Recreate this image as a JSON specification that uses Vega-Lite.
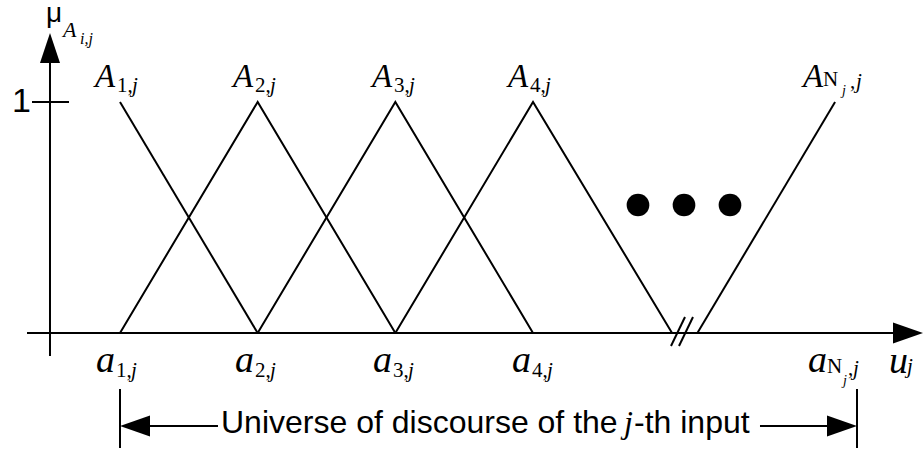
{
  "$schema": "https://vega.github.io/schema/vega-lite/v6.json",
  "width": 924,
  "height": 453,
  "autosize": {"type": "fit", "contains": "padding"},
  "padding": 0,
  "background": "white",
  "config": {"view": {"stroke": null}},
  "datasets": {
    "curves": [
      {"s": "A1", "o": 1, "u": 1, "mu": 1},
      {"s": "A1", "o": 2, "u": 2, "mu": 0},
      {"s": "A2", "o": 1, "u": 1, "mu": 0},
      {"s": "A2", "o": 2, "u": 2, "mu": 1},
      {"s": "A2", "o": 3, "u": 3, "mu": 0},
      {"s": "A3", "o": 1, "u": 2, "mu": 0},
      {"s": "A3", "o": 2, "u": 3, "mu": 1},
      {"s": "A3", "o": 3, "u": 4, "mu": 0},
      {"s": "A4", "o": 1, "u": 3, "mu": 0},
      {"s": "A4", "o": 2, "u": 4, "mu": 1},
      {"s": "A4", "o": 3, "u": 5.01, "mu": 0},
      {"s": "AN", "o": 1, "u": 5.194, "mu": 0},
      {"s": "AN", "o": 2, "u": 6.194, "mu": 1}
    ],
    "segments": [
      {"id": "xaxis", "u1": 0.3245, "mu1": 0, "u2": 6.6294, "mu2": 0},
      {"id": "yaxis", "u1": 0.4915, "mu1": -0.0996, "u2": 0.4915, "mu2": 1.1688},
      {"id": "tick1", "u1": 0.3608, "mu1": 1, "u2": 0.6296, "mu2": 1},
      {"id": "slash1", "u1": 5.0023, "mu1": -0.0563, "u2": 5.104, "mu2": 0.0693},
      {"id": "slash2", "u1": 5.0604, "mu1": -0.0563, "u2": 5.1621, "mu2": 0.0693},
      {"id": "leftbar", "u1": 1, "mu1": -0.2424, "u2": 1, "mu2": -0.4978},
      {"id": "rightbar", "u1": 6.3533, "mu1": -0.2424, "u2": 6.3533, "mu2": -0.4978},
      {"id": "leftline", "u1": 1.1, "mu1": -0.4026, "u2": 1.7118, "mu2": -0.4026},
      {"id": "rightline", "u1": 5.6487, "mu1": -0.4026, "u2": 6.2, "mu2": -0.4026}
    ],
    "arrows": [
      {"dir": "up", "u": 0.4915, "mu": 1.2338},
      {"dir": "right", "u": 6.7238, "mu": 0},
      {"dir": "left", "u": 1.109, "mu": -0.4026},
      {"dir": "right", "u": 6.2444, "mu": -0.4026}
    ],
    "dots": [
      {"u": 4.7626, "mu": 0.5541},
      {"u": 5.0968, "mu": 0.5541},
      {"u": 5.4309, "mu": 0.5541}
    ],
    "labels": [
      {"role": "Aletter", "text": "A", "u": 0.8184, "mu": 1.0649},
      {"role": "Aletter", "text": "A", "u": 1.8208, "mu": 1.0649},
      {"role": "Aletter", "text": "A", "u": 2.8305, "mu": 1.0649},
      {"role": "Aletter", "text": "A", "u": 3.8183, "mu": 1.0649},
      {"role": "Aletter", "text": "A", "u": 5.9611, "mu": 1.0649},
      {"role": "subup", "text": "1,", "u": 0.9782, "mu": 1.0433},
      {"role": "subup", "text": "2,", "u": 1.9806, "mu": 1.0433},
      {"role": "subup", "text": "3,", "u": 2.9903, "mu": 1.0433},
      {"role": "subup", "text": "4,", "u": 3.9781, "mu": 1.0433},
      {"role": "subup", "text": "N", "u": 6.1064, "mu": 1.0693},
      {"role": "subup", "text": ",", "u": 6.3026, "mu": 1.0606},
      {"role": "subit", "text": "j", "u": 1.0872, "mu": 1.0433},
      {"role": "subit", "text": "j", "u": 2.0896, "mu": 1.0433},
      {"role": "subit", "text": "j", "u": 3.0992, "mu": 1.0433},
      {"role": "subit", "text": "j", "u": 4.0871, "mu": 1.0433},
      {"role": "subit", "text": "j", "u": 6.3461, "mu": 1.0606},
      {"role": "subsub", "text": "j", "u": 6.2444, "mu": 1.0303},
      {"role": "aletter", "text": "a", "u": 0.8257, "mu": -0.1688},
      {"role": "aletter", "text": "a", "u": 1.8353, "mu": -0.1688},
      {"role": "aletter", "text": "a", "u": 2.8377, "mu": -0.1688},
      {"role": "aletter", "text": "a", "u": 3.8474, "mu": -0.1688},
      {"role": "aletter", "text": "a", "u": 5.9975, "mu": -0.1688},
      {"role": "aletter", "text": "u", "u": 6.5858, "mu": -0.1732},
      {"role": "subup", "text": "1,", "u": 0.9709, "mu": -0.1905},
      {"role": "subup", "text": "2,", "u": 1.9806, "mu": -0.1905},
      {"role": "subup", "text": "3,", "u": 2.983, "mu": -0.1905},
      {"role": "subup", "text": "4,", "u": 3.9927, "mu": -0.1905},
      {"role": "subup", "text": "N", "u": 6.1354, "mu": -0.1732},
      {"role": "subup", "text": ",", "u": 6.288, "mu": -0.1818},
      {"role": "subit", "text": "j", "u": 1.0799, "mu": -0.1905},
      {"role": "subit", "text": "j", "u": 2.0896, "mu": -0.1905},
      {"role": "subit", "text": "j", "u": 3.092, "mu": -0.1905},
      {"role": "subit", "text": "j", "u": 4.1017, "mu": -0.1905},
      {"role": "subit", "text": "j", "u": 6.3243, "mu": -0.1818},
      {"role": "subit", "text": "j", "u": 6.7166, "mu": -0.1732},
      {"role": "subsub", "text": "j", "u": 6.2517, "mu": -0.2251},
      {"role": "muA", "text": "A", "u": 0.586, "mu": 1.2814},
      {"role": "musub", "text": "i,j", "u": 0.7094, "mu": 1.2511},
      {"role": "mu", "text": "μ", "u": 0.4625, "mu": 1.3463},
      {"role": "one", "text": "1", "u": 0.3535, "mu": 0.9567},
      {"role": "caption", "text": "Universe of discourse of the", "u": 1.7336, "mu": -0.4329},
      {"role": "caption", "text": "-th input", "u": 4.7336, "mu": -0.4329},
      {"role": "captionj", "text": "j", "u": 4.6609, "mu": -0.4329}
    ]
  },
  "layer": [
    {
      "data": {"name": "curves"},
      "mark": {"type": "line", "color": "black", "strokeWidth": 2},
      "encoding": {
        "x": {"field": "u", "type": "quantitative", "axis": null, "scale": {"domain": [0.12835, 6.84005], "nice": false, "zero": false}},
        "y": {"field": "mu", "type": "quantitative", "axis": null, "scale": {"domain": [-0.51948, 1.44156], "nice": false, "zero": false}},
        "detail": {"field": "s"},
        "order": {"field": "o", "type": "quantitative"}
      }
    },
    {
      "data": {"name": "segments"},
      "mark": {"type": "rule", "color": "black", "strokeWidth": 2},
      "encoding": {
        "x": {"field": "u1", "type": "quantitative"},
        "x2": {"field": "u2"},
        "y": {"field": "mu1", "type": "quantitative"},
        "y2": {"field": "mu2"}
      }
    },
    {
      "data": {"name": "arrows"},
      "mark": {"type": "point", "filled": true, "color": "black", "opacity": 1, "size": 900, "strokeWidth": 0},
      "encoding": {
        "x": {"field": "u", "type": "quantitative"},
        "y": {"field": "mu", "type": "quantitative"},
        "shape": {"field": "dir", "type": "nominal", "legend": null, "scale": {"domain": ["up", "right", "left"], "range": ["M0,-1L0.667,1L-0.667,1Z", "M1,0L-1,0.7L-1,-0.7Z", "M-1,0L1,0.7L1,-0.7Z"]}}
      }
    },
    {
      "data": {"name": "dots"},
      "mark": {"type": "point", "shape": "circle", "filled": true, "color": "black", "opacity": 1, "size": 515, "strokeWidth": 0},
      "encoding": {
        "x": {"field": "u", "type": "quantitative"},
        "y": {"field": "mu", "type": "quantitative"}
      }
    },
    {
      "data": {"name": "labels"},
      "transform": [{"filter": "datum.role === 'Aletter'"}],
      "mark": {"type": "text", "font": "Liberation Serif", "fontStyle": "italic", "fontSize": 33, "align": "left", "baseline": "alphabetic", "color": "black"},
      "encoding": {"x": {"field": "u", "type": "quantitative"}, "y": {"field": "mu", "type": "quantitative"}, "text": {"field": "text"}}
    },
    {
      "data": {"name": "labels"},
      "transform": [{"filter": "datum.role === 'aletter'"}],
      "mark": {"type": "text", "font": "Liberation Serif", "fontStyle": "italic", "fontSize": 38, "align": "left", "baseline": "alphabetic", "color": "black"},
      "encoding": {"x": {"field": "u", "type": "quantitative"}, "y": {"field": "mu", "type": "quantitative"}, "text": {"field": "text"}}
    },
    {
      "data": {"name": "labels"},
      "transform": [{"filter": "datum.role === 'subup'"}],
      "mark": {"type": "text", "font": "Liberation Serif", "fontSize": 21, "align": "left", "baseline": "alphabetic", "color": "black"},
      "encoding": {"x": {"field": "u", "type": "quantitative"}, "y": {"field": "mu", "type": "quantitative"}, "text": {"field": "text"}}
    },
    {
      "data": {"name": "labels"},
      "transform": [{"filter": "datum.role === 'subit'"}],
      "mark": {"type": "text", "font": "Liberation Serif", "fontStyle": "italic", "fontSize": 21, "align": "left", "baseline": "alphabetic", "color": "black"},
      "encoding": {"x": {"field": "u", "type": "quantitative"}, "y": {"field": "mu", "type": "quantitative"}, "text": {"field": "text"}}
    },
    {
      "data": {"name": "labels"},
      "transform": [{"filter": "datum.role === 'subsub'"}],
      "mark": {"type": "text", "font": "Liberation Serif", "fontStyle": "italic", "fontSize": 14, "align": "left", "baseline": "alphabetic", "color": "black"},
      "encoding": {"x": {"field": "u", "type": "quantitative"}, "y": {"field": "mu", "type": "quantitative"}, "text": {"field": "text"}}
    },
    {
      "data": {"name": "labels"},
      "transform": [{"filter": "datum.role === 'musub'"}],
      "mark": {"type": "text", "font": "Liberation Serif", "fontStyle": "italic", "fontSize": 16, "align": "left", "baseline": "alphabetic", "color": "black"},
      "encoding": {"x": {"field": "u", "type": "quantitative"}, "y": {"field": "mu", "type": "quantitative"}, "text": {"field": "text"}}
    },
    {
      "data": {"name": "labels"},
      "transform": [{"filter": "datum.role === 'muA'"}],
      "mark": {"type": "text", "font": "Liberation Serif", "fontStyle": "italic", "fontSize": 22, "align": "left", "baseline": "alphabetic", "color": "black"},
      "encoding": {"x": {"field": "u", "type": "quantitative"}, "y": {"field": "mu", "type": "quantitative"}, "text": {"field": "text"}}
    },
    {
      "data": {"name": "labels"},
      "transform": [{"filter": "datum.role === 'mu'"}],
      "mark": {"type": "text", "font": "Liberation Sans", "fontSize": 28, "align": "left", "baseline": "alphabetic", "color": "black"},
      "encoding": {"x": {"field": "u", "type": "quantitative"}, "y": {"field": "mu", "type": "quantitative"}, "text": {"field": "text"}}
    },
    {
      "data": {"name": "labels"},
      "transform": [{"filter": "datum.role === 'one'"}],
      "mark": {"type": "text", "font": "Liberation Sans", "fontSize": 34, "align": "right", "baseline": "alphabetic", "color": "black"},
      "encoding": {"x": {"field": "u", "type": "quantitative"}, "y": {"field": "mu", "type": "quantitative"}, "text": {"field": "text"}}
    },
    {
      "data": {"name": "labels"},
      "transform": [{"filter": "datum.role === 'caption'"}],
      "mark": {"type": "text", "font": "Liberation Sans", "fontSize": 32, "align": "left", "baseline": "alphabetic", "color": "black"},
      "encoding": {"x": {"field": "u", "type": "quantitative"}, "y": {"field": "mu", "type": "quantitative"}, "text": {"field": "text"}}
    },
    {
      "data": {"name": "labels"},
      "transform": [{"filter": "datum.role === 'captionj'"}],
      "mark": {"type": "text", "font": "Liberation Serif", "fontStyle": "italic", "fontSize": 32, "align": "left", "baseline": "alphabetic", "color": "black"},
      "encoding": {"x": {"field": "u", "type": "quantitative"}, "y": {"field": "mu", "type": "quantitative"}, "text": {"field": "text"}}
    }
  ]
}
